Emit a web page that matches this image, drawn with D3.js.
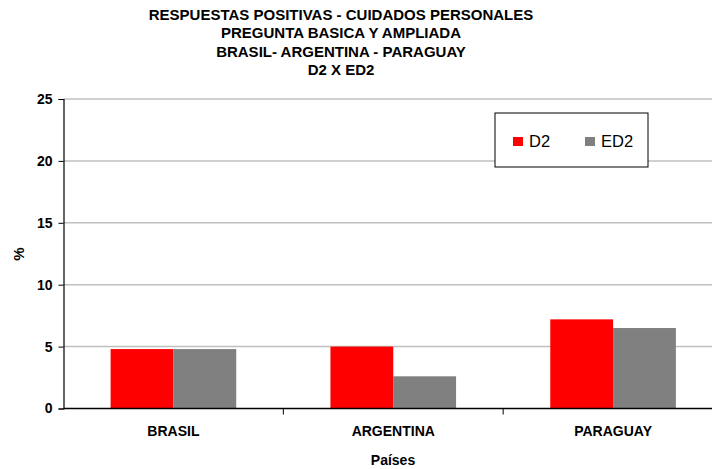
<!DOCTYPE html>
<html>
<head>
<meta charset="utf-8">
<script src="https://d3js.org/d3.v7.min.js"></script>
<style>
  body { margin: 0; background: #fff; }
  text { font-family: "Liberation Sans", Arial, sans-serif; }
</style>
</head>
<body>
<div id="chart"></div>
<script>
// data
const categories = ["BRASIL", "ARGENTINA", "PARAGUAY"];
const seriesNames = ["D2", "ED2"];
const d2Values = [4.8, 5.0, 7.2];
const ed2Values = [4.8, 2.6, 6.5];
const yTicks = [0, 5, 10, 15, 20, 25];
const titleLines = [
  "RESPUESTAS POSITIVAS - CUIDADOS PERSONALES",
  "PREGUNTA BASICA Y AMPLIADA",
  "BRASIL- ARGENTINA - PARAGUAY",
  "D2 X ED2"
];
const colors = ["#ff0000", "#808080"];

const W = 712, H = 469;
const margin = {top: 99, left: 63.5, right: -11, bottom: 60.5};

const svg = d3.select("#chart").append("svg")
  .attr("width", W).attr("height", H);

const x0 = d3.scaleBand()
  .domain(categories)
  .range([margin.left, W - margin.right]);

const x1 = d3.scaleBand()
  .domain(seriesNames)
  .range([0, x0.bandwidth()])
  .paddingOuter(0.75);

const y = d3.scaleLinear()
  .domain([0, 25])
  .range([H - margin.bottom, margin.top]);

// grid
svg.append("g").selectAll("line")
  .data(yTicks.filter(d => d > 0))
  .join("line")
  .attr("x1", margin.left).attr("x2", W)
  .attr("y1", d => y(d)).attr("y2", d => y(d))
  .attr("stroke", "#c0c0c0").attr("stroke-width", 1.5);

// bars
const rows = categories.map((c, i) => ({cat: c, vals: [d2Values[i], ed2Values[i]]}));
svg.append("g").selectAll("g")
  .data(rows)
  .join("g")
  .attr("transform", d => `translate(${x0(d.cat)},0)`)
  .selectAll("rect")
  .data(d => d.vals.map((v, j) => ({name: seriesNames[j], v: v, j: j})))
  .join("rect")
  .attr("x", d => x1(d.name))
  .attr("width", x1.bandwidth())
  .attr("y", d => y(d.v))
  .attr("height", d => y(0) - y(d.v))
  .attr("fill", d => colors[d.j]);

// y axis
const yAxis = svg.append("g")
  .attr("transform", `translate(${margin.left},0)`)
  .call(d3.axisLeft(y).tickValues(yTicks).tickSize(5).tickPadding(6));
yAxis.select(".domain").attr("stroke", "#000").attr("stroke-width", 1.2);
yAxis.selectAll(".tick line").attr("stroke", "#000");
yAxis.selectAll("text")
  .attr("font-size", 14).attr("font-weight", "bold").attr("fill", "#000")
  .attr("font-family", "Liberation Sans, Arial, sans-serif");

// x axis
const xAxis = svg.append("g")
  .attr("transform", `translate(0,${y(0)})`);
xAxis.append("line")
  .attr("x1", margin.left).attr("x2", W)
  .attr("stroke", "#000").attr("stroke-width", 1.5);
xAxis.selectAll(".xt")
  .data(categories.slice(1))
  .join("line")
  .attr("class", "xt")
  .attr("x1", d => x0(d)).attr("x2", d => x0(d))
  .attr("y1", 0).attr("y2", 6)
  .attr("stroke", "#000");
xAxis.selectAll("text")
  .data(categories)
  .join("text")
  .attr("x", d => x0(d) + x0.bandwidth() / 2)
  .attr("y", 27)
  .attr("text-anchor", "middle")
  .attr("font-size", 14).attr("font-weight", "bold")
  .text(d => d);

// axis titles
svg.append("text")
  .attr("transform", `translate(24,254) rotate(-90)`)
  .attr("text-anchor", "middle")
  .attr("font-size", 15).attr("font-weight", "bold")
  .text("%");
svg.append("text")
  .attr("x", 393).attr("y", 465)
  .attr("text-anchor", "middle")
  .attr("font-size", 14).attr("font-weight", "bold")
  .text("Países");

// title
svg.append("g").selectAll("text")
  .data(titleLines)
  .join("text")
  .attr("x", 341)
  .attr("y", (d, i) => 20 + i * 18.3)
  .attr("text-anchor", "middle")
  .attr("font-size", 15).attr("font-weight", "bold")
  .text(d => d);

// legend
const lg = svg.append("g").attr("transform", "translate(495,113)");
lg.append("rect")
  .attr("width", 153).attr("height", 54)
  .attr("fill", "#fff").attr("stroke", "#000").attr("stroke-width", 1);
const li = lg.selectAll(".li")
  .data(seriesNames)
  .join("g")
  .attr("class", "li")
  .attr("transform", (d, i) => `translate(${18 + i * 72},24)`);
li.append("rect")
  .attr("width", 10).attr("height", 9)
  .attr("fill", (d, i) => colors[i]);
li.append("text")
  .attr("x", 16).attr("y", 10)
  .attr("font-size", 16.5)
  .text(d => d);
</script>
</body>
</html>
